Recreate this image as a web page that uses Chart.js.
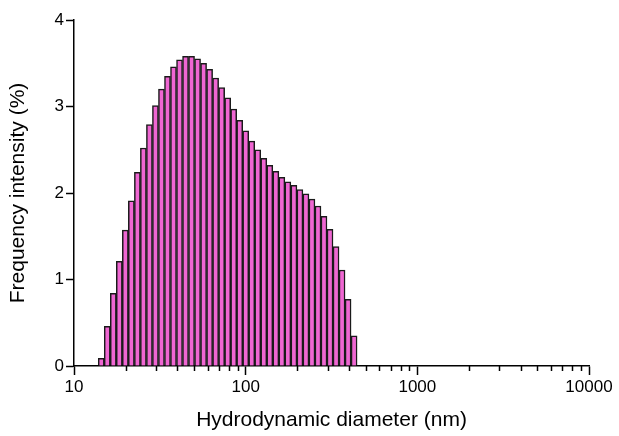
<!DOCTYPE html>
<html>
<head>
<meta charset="utf-8">
<script src="https://cdn.jsdelivr.net/npm/chart.js@4.4.1/dist/chart.umd.min.js"></script>
<style>
  html, body { margin: 0; padding: 0; background: #fff; }
  #wrap { width: 619px; height: 436px; position: relative; }
</style>
</head>
<body>
<div id="wrap"><canvas id="cv"></canvas></div>
<script>
/***** data *****/
// bin centres (nm)
const DIAMETERS = [
  14.41, 15.62, 16.94, 18.36, 19.91, 21.58, 23.40, 25.36, 27.50, 29.81,
  32.32, 35.04, 37.98, 41.18, 44.64, 48.39, 52.46, 56.87, 61.66, 66.84,
  72.46, 78.56, 85.16, 92.33, 100.1, 108.5, 117.6, 127.5, 138.2, 149.9,
  162.5, 176.1, 191.0, 207.0, 224.4, 243.3, 263.8, 285.9, 310.0, 336.1,
  364.3, 395.0, 428.2
];
// frequency intensity (%)
const FREQ = [
  0.09, 0.46, 0.84, 1.21, 1.57, 1.91, 2.24, 2.52, 2.79, 3.01,
  3.20, 3.35, 3.46, 3.54, 3.58, 3.58, 3.55, 3.50, 3.43, 3.33,
  3.22, 3.10, 2.97, 2.84, 2.72, 2.60, 2.50, 2.40, 2.32, 2.25,
  2.18, 2.13, 2.09, 2.04, 1.99, 1.93, 1.85, 1.73, 1.58, 1.38,
  1.11, 0.77, 0.35
];
const X_DECADES = [10, 100, 1000];
const X_MULTS = [1, 2, 3, 4, 5, 6, 7, 8, 9];
const X_LAST = 10000;
const Y_TICKS = [0, 1, 2, 3, 4];

/***** helpers *****/
const FONT = "'Liberation Sans', Arial, sans-serif";
function isMajor(v){ return Math.abs(Math.log10(v) - Math.round(Math.log10(v))) < 1e-6; }

const xTickValues = [];
X_DECADES.forEach(d => X_MULTS.forEach(m => xTickValues.push(d * m)));
xTickValues.push(X_LAST);

// minor ticks on x are shorter than the decade ticks
const minorTicks = {
  id: "minorTicks",
  afterDraw(chart){
    const sc = chart.scales.x;
    const c = chart.ctx;
    c.save();
    c.strokeStyle = "#000";
    c.lineWidth = 1.5;
    sc.ticks.forEach(t => {
      if(isMajor(t.value)) return;
      const px = Math.round(sc.getPixelForValue(t.value)) + 0.5;
      c.beginPath();
      c.moveTo(px, sc.top);
      c.lineTo(px, sc.top + 5);
      c.stroke();
    });
    c.restore();
  }
};

new Chart(document.getElementById("cv"), {
  type: "bar",
  data: {
    datasets: [{
      data: DIAMETERS.map((d, i) => ({ x: d, y: FREQ[i] })),
      backgroundColor: "#ef66d2",
      borderColor: "#1a1a1a",
      borderWidth: 1.5,
      barPercentage: 1,
      categoryPercentage: 1
    }]
  },
  options: {
    responsive: true,
    maintainAspectRatio: false,
    animation: false,
    layout: { padding: { top: 20, right: 30, left: 0, bottom: 0 } },
    plugins: { legend: { display: false }, tooltip: { enabled: false } },
    scales: {
      x: {
        type: "logarithmic",
        min: 10,
        max: 10000,
        offset: false,
        afterBuildTicks: sc => { sc.ticks = xTickValues.map(v => ({ value: v })); },
        afterFit: sc => { sc.height = 70; },
        grid: {
          offset: false,
          drawOnChartArea: false,
          tickLength: 9,
          tickWidth: 1.5,
          tickColor: ctx => (ctx.tick && isMajor(ctx.tick.value)) ? "#000" : "rgba(0,0,0,0)"
        },
        border: { color: "#000", width: 1.5 },
        ticks: {
          autoSkip: false,
          maxRotation: 0,
          padding: 2,
          color: "#000",
          font: { family: FONT, size: 17 },
          callback: v => isMajor(v) ? String(Math.round(v)) : ""
        },
        title: {
          display: true,
          text: "Hydrodynamic diameter (nm)",
          color: "#000",
          font: { family: FONT, size: 21 },
          padding: { top: 0, bottom: 3 }
        }
      },
      y: {
        min: 0,
        max: 4,
        afterBuildTicks: sc => { sc.ticks = Y_TICKS.map(v => ({ value: v })); },
        afterFit: sc => { sc.width = 74; },
        grid: {
          drawOnChartArea: false,
          tickLength: 8,
          tickWidth: 1.5,
          tickColor: "#000"
        },
        border: { color: "#000", width: 1.5 },
        ticks: {
          padding: 2,
          color: "#000",
          font: { family: FONT, size: 17 }
        },
        title: {
          display: true,
          text: "Frequency intensity (%)",
          color: "#000",
          font: { family: FONT, size: 21 },
          padding: { top: 6, bottom: 0 }
        }
      }
    }
  },
  plugins: [minorTicks]
});
</script>
</body>
</html>
